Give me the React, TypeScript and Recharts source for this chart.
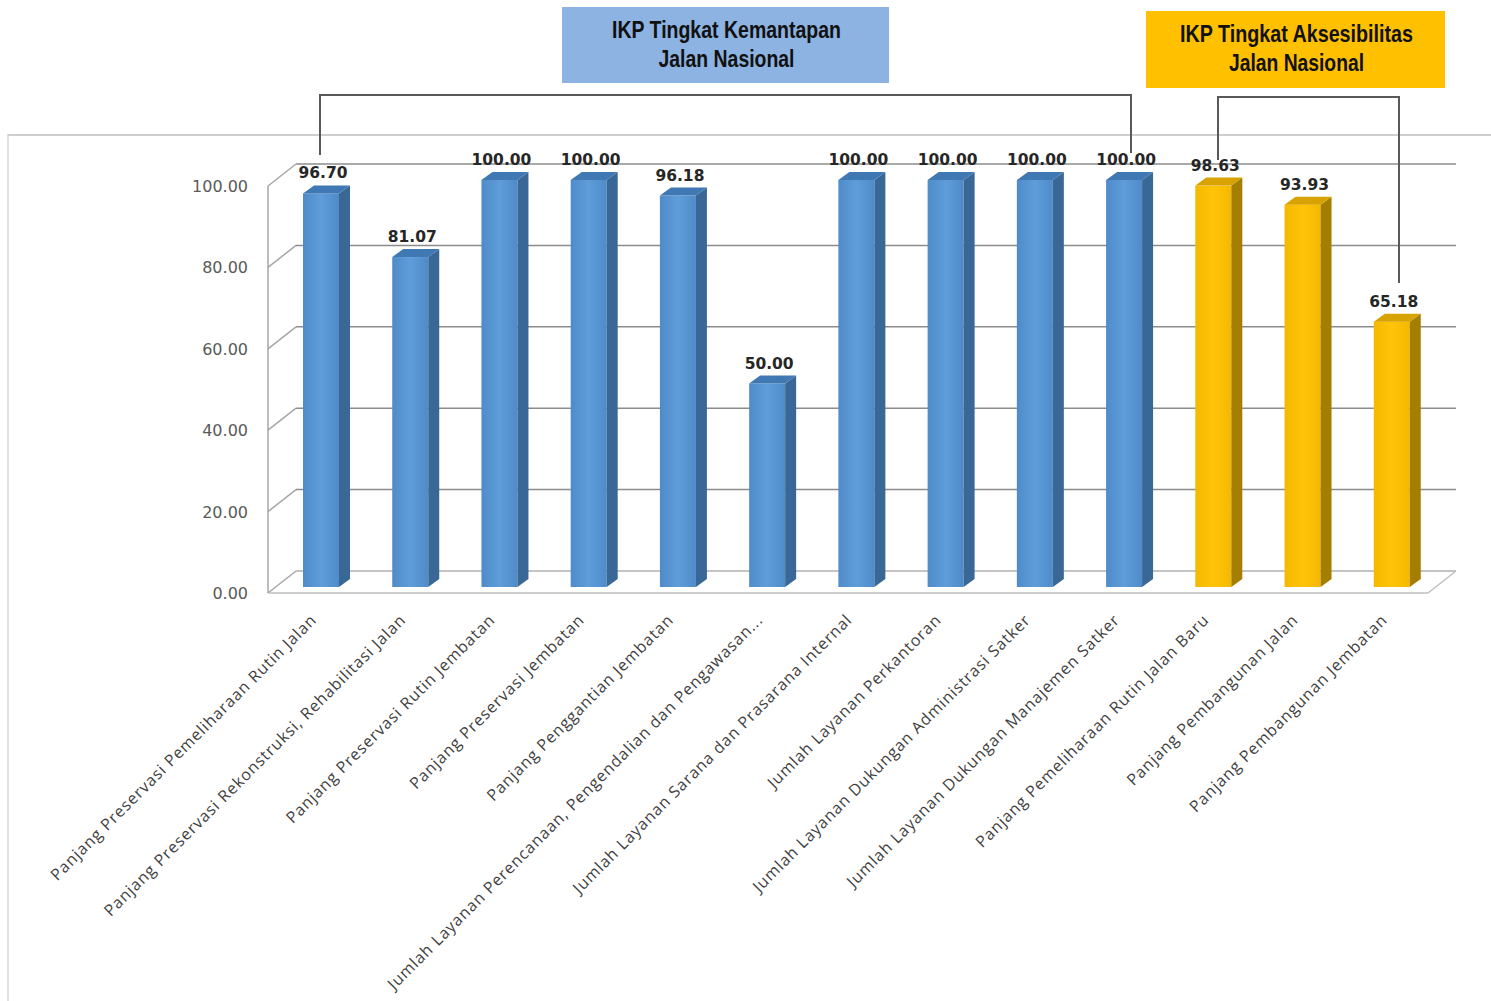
import React from 'react';
import {
  BarChart,
  Bar,
  XAxis,
  YAxis,
  CartesianGrid,
  LabelList,
  Cell,
} from 'recharts';

// Indikator kinerja per kegiatan
const categories: string[] = [
  'Panjang Preservasi Pemeliharaan Rutin Jalan',
  'Panjang Preservasi Rekonstruksi, Rehabilitasi Jalan',
  'Panjang Preservasi Rutin Jembatan',
  'Panjang Preservasi Jembatan',
  'Panjang Penggantian Jembatan',
  'Jumlah Layanan Perencanaan, Pengendalian dan Pengawasan...',
  'Jumlah Layanan Sarana dan Prasarana Internal',
  'Jumlah Layanan Perkantoran',
  'Jumlah Layanan Dukungan Administrasi Satker',
  'Jumlah Layanan Dukungan Manajemen Satker',
  'Panjang Pemeliharaan Rutin Jalan Baru',
  'Panjang Pembangunan Jalan',
  'Panjang Pembangunan Jembatan',
];

const values: number[] = [
  96.7, 81.07, 100.0, 100.0, 96.18, 50.0, 100.0, 100.0, 100.0, 100.0, 98.63, 93.93, 65.18,
];

// 'K' = IKP Tingkat Kemantapan, 'A' = IKP Tingkat Aksesibilitas
const groups: string[] = ['K', 'K', 'K', 'K', 'K', 'K', 'K', 'K', 'K', 'K', 'A', 'A', 'A'];

const yTicks: number[] = [0, 20, 40, 60, 80, 100];

const groupTitles: Record<string, string[]> = {
  K: ['IKP Tingkat Kemantapan', 'Jalan Nasional'],
  A: ['IKP Tingkat Aksesibilitas', 'Jalan Nasional'],
};

const data = categories.map((name, i) => ({ name, value: values[i], group: groups[i] }));

// 3D look
const DEPTH_X = 28;
const DEPTH_Y = 22;
const BAR_SHIFT_X = 8;
const BAR_SHIFT_Y = 6;
const SIDE_X = 11;
const SIDE_Y = 8;

const PALETTE: Record<string, { front: string; light: string; side: string; top: string }> = {
  K: { front: '#4F8BC9', light: '#5E9DDA', side: '#3A6896', top: '#3F78B2' },
  A: { front: '#F5B800', light: '#FFC40A', side: '#A47E00', top: '#D8A200' },
};

const CHART_W = 1491;
const CHART_H = 1001;
const MARGIN = { top: 186, right: 63, bottom: 0, left: 0 };
const Y_AXIS_W = 268;
const X_AXIS_H = CHART_H - 593;
const PLOT_BOTTOM = CHART_H - X_AXIS_H;

const Bar3D = (props: any) => {
  const { x, y, width, height, payload } = props;
  const c = PALETTE[payload.group];
  const fx = x + BAR_SHIFT_X;
  const fy = y - BAR_SHIFT_Y;
  const gid = `grad-${payload.group}`;
  return (
    <g>
      <rect x={fx} y={fy} width={width} height={height} fill={`url(#${gid})`} />
      <polygon
        points={`${fx + width},${fy} ${fx + width + SIDE_X},${fy - SIDE_Y} ${fx + width + SIDE_X},${fy + height - SIDE_Y} ${fx + width},${fy + height}`}
        fill={c.side}
      />
      <polygon
        points={`${fx},${fy} ${fx + width},${fy} ${fx + width + SIDE_X},${fy - SIDE_Y} ${fx + SIDE_X},${fy - SIDE_Y}`}
        fill={c.top}
      />
    </g>
  );
};

const ValueLabel = (props: any) => {
  const { x, y, width, value } = props;
  const cx = x + BAR_SHIFT_X + width / 2 + 2;
  const by = y - BAR_SHIFT_Y - SIDE_Y - 7;
  return (
    <text
      x={cx}
      y={by}
      textAnchor="middle"
      fontFamily="'DejaVu Sans', Verdana, sans-serif"
      fontWeight="bold"
      fontSize={15.5}
      fill="#262626"
    >
      {Number(value).toFixed(2)}
    </text>
  );
};

const XTick = (props: any) => {
  const { x, y, payload } = props;
  const ax = x + 5;
  const ay = y + 20;
  return (
    <text
      x={ax}
      y={ay}
      textAnchor="end"
      transform={`rotate(-45, ${ax}, ${ay})`}
      fontFamily="'Open Sans', sans-serif"
      fontSize={16}
      letterSpacing={0.85}
      fill="#3F3F3F"
    >
      {payload.value}
    </text>
  );
};

const YTick = (props: any) => {
  const { y, payload } = props;
  return (
    <text
      x={248}
      y={y}
      dy={6}
      textAnchor="end"
      fontFamily="'DejaVu Sans', Verdana, sans-serif"
      fontSize={16}
      fill="#595959"
    >
      {Number(payload.value).toFixed(2)}
    </text>
  );
};

// Back-wall gridline with its connector on the side wall
const WallLine = (props: any) => {
  const { x1, y1, x2 } = props;
  const isFloor = Math.abs(y1 - PLOT_BOTTOM) < 1;
  return (
    <g key={props.key}>
      <line x1={x1} y1={y1} x2={x1 + DEPTH_X} y2={y1 - DEPTH_Y} stroke="#A6A6A6" strokeWidth={1.5} />
      <line
        x1={x1 + DEPTH_X}
        y1={y1 - DEPTH_Y}
        x2={x2 + DEPTH_X}
        y2={y1 - DEPTH_Y}
        stroke={isFloor ? '#B0B0B0' : '#8C8C8C'}
        strokeWidth={1.5}
      />
      {isFloor && (
        <line x1={x2} y1={y1} x2={x2 + DEPTH_X} y2={y1 - DEPTH_Y} stroke="#BFBFBF" strokeWidth={1.5} />
      )}
    </g>
  );
};

// Header box with condensed bold title on two lines
const GroupHeader = ({
  left,
  top,
  width,
  height,
  fill,
  lines,
  widths,
}: {
  left: number;
  top: number;
  width: number;
  height: number;
  fill: string;
  lines: string[];
  widths: number[];
}) => (
  <g>
    <rect x={left} y={top} width={width} height={height} fill={fill} />
    {lines.map((t, i) => (
      <text
        key={i}
        x={left + width / 2 + 1}
        y={top + 31 + i * 29}
        textAnchor="middle"
        fontFamily="'Liberation Sans', Arial, sans-serif"
        fontWeight="bold"
        fontSize={24.5}
        fill="#111"
        textLength={widths[i]}
        lengthAdjust="spacingAndGlyphs"
      >
        {t}
      </text>
    ))}
  </g>
);

export default function App() {
  return (
    <div style={{ position: 'absolute', left: 0, top: 0, width: CHART_W, height: CHART_H, background: '#fff', overflow: 'hidden' }}>
      {/* chart area frame */}
      <div
        style={{
          position: 'absolute',
          left: 7,
          top: 134,
          width: CHART_W,
          height: CHART_H,
          borderTop: '2px solid #CFCFCF',
          borderLeft: '2px solid #E0E0E0',
        }}
      />
      <div style={{ position: 'absolute', left: 0, top: 0 }}>
        <BarChart width={CHART_W} height={CHART_H} data={data} margin={MARGIN}>
          <defs>
            {Object.keys(PALETTE).map((k) => (
              <linearGradient key={k} id={`grad-${k}`} x1="0" y1="0" x2="1" y2="0">
                <stop offset="0%" stopColor={PALETTE[k].front} />
                <stop offset="50%" stopColor={PALETTE[k].light} />
                <stop offset="100%" stopColor={PALETTE[k].front} />
              </linearGradient>
            ))}
          </defs>
          <CartesianGrid vertical={false} horizontal={WallLine} />
          <XAxis
            dataKey="name"
            interval={0}
            height={X_AXIS_H}
            tick={<XTick />}
            tickLine={false}
            axisLine={{ stroke: '#BFBFBF', strokeWidth: 1.5 }}
          />
          <YAxis
            domain={[0, 100]}
            ticks={yTicks}
            width={Y_AXIS_W}
            tick={<YTick />}
            tickLine={false}
            axisLine={{ stroke: '#A6A6A6', strokeWidth: 1.5 }}
          />
          <Bar dataKey="value" barSize={36} shape={<Bar3D />} isAnimationActive={false}>
            {data.map((d, i) => (
              <Cell key={i} fill={PALETTE[d.group].front} />
            ))}
            <LabelList dataKey="value" content={<ValueLabel />} />
          </Bar>
        </BarChart>
      </div>
      {/* group brackets and headers */}
      <svg width={CHART_W} height={CHART_H} style={{ position: 'absolute', left: 0, top: 0, pointerEvents: 'none' }}>
        <polyline points="320,155 320,95 1131,95 1131,153" fill="none" stroke="#595959" strokeWidth={2} />
        <polyline points="1218,160 1218,97 1399,97 1399,283" fill="none" stroke="#595959" strokeWidth={2} />
        <GroupHeader left={562} top={7} width={327} height={76} fill="#8DB3E2" lines={groupTitles.K} widths={[229, 136]} />
        <GroupHeader left={1146} top={11} width={299} height={77} fill="#FFC000" lines={groupTitles.A} widths={[233, 135]} />
      </svg>
    </div>
  );
}
